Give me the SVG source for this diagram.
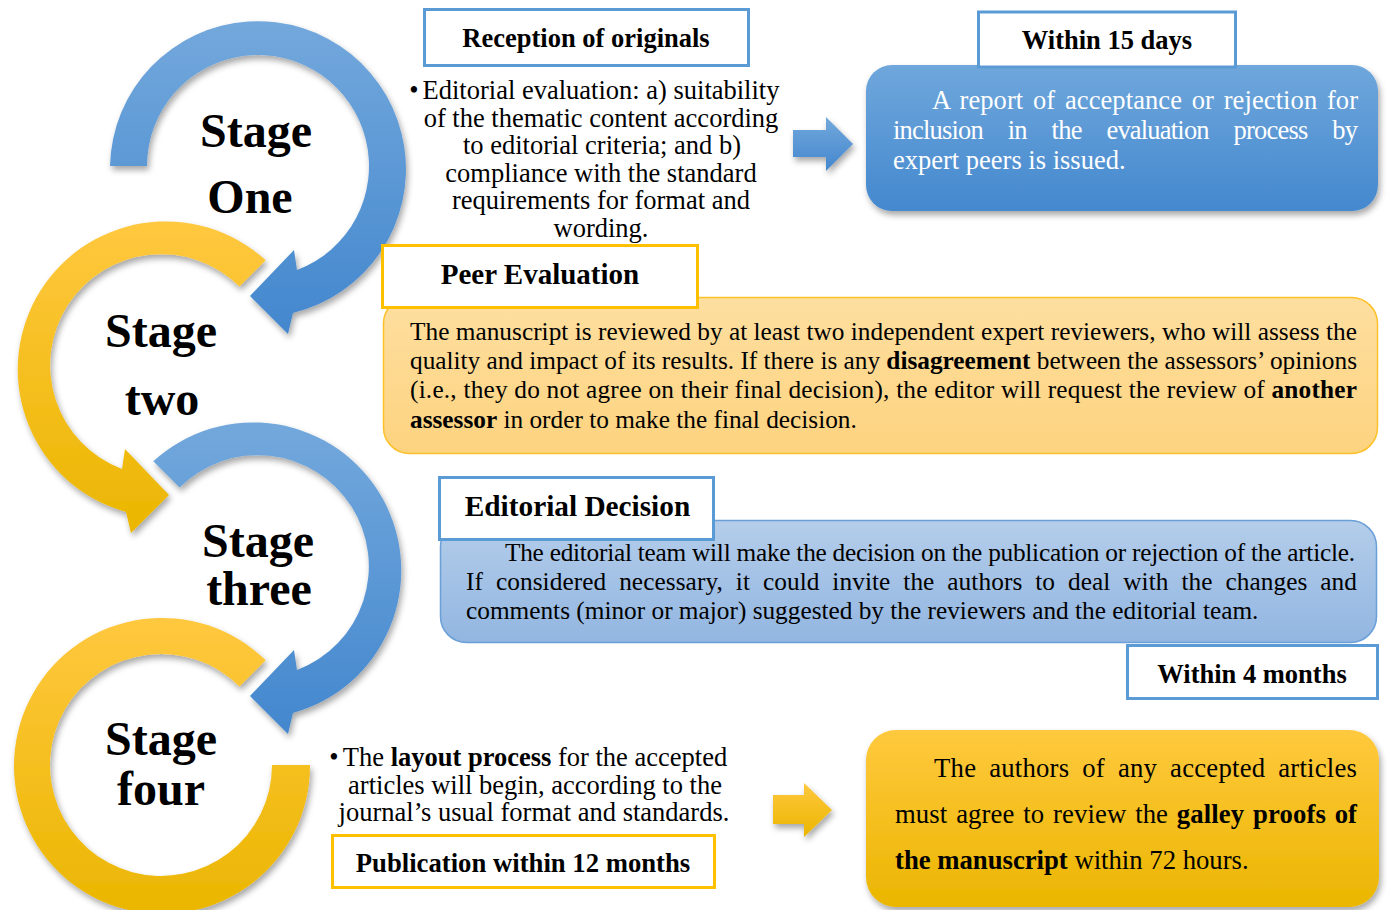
<svg xmlns="http://www.w3.org/2000/svg" width="1387" height="910" viewBox="0 0 1387 910">
<style>
.stage{font-family:"Liberation Serif","Times New Roman",serif;font-weight:bold;font-size:48px;text-anchor:middle;fill:#000}
.ttl{font-family:"Liberation Serif","Times New Roman",serif;font-weight:bold;fill:#000}
.txt{font-family:"Liberation Serif","Times New Roman",serif;fill:#000}
.wtxt{font-family:"Liberation Serif","Times New Roman",serif;fill:#fff;font-size:26.5px}
.lb{fill:#fff;stroke:#5b9bd5;stroke-width:3}
.ly{fill:#fff;stroke:#ffc000;stroke-width:3}
.b{font-weight:bold}
</style>
<defs>
<linearGradient id="gBlue" x1="0" y1="0" x2="0" y2="1"><stop offset="0" stop-color="#73a8dc"/><stop offset="1" stop-color="#4387ce"/></linearGradient>
<linearGradient id="gYel" x1="0" y1="0" x2="0" y2="1"><stop offset="0" stop-color="#ffc83f"/><stop offset="1" stop-color="#ebb600"/></linearGradient>
<linearGradient id="gBlueBox" x1="0" y1="0" x2="0" y2="1"><stop offset="0" stop-color="#6fa7dc"/><stop offset="1" stop-color="#4488ce"/></linearGradient>
<linearGradient id="gYelBox" x1="0" y1="0" x2="0" y2="1"><stop offset="0" stop-color="#ffc93e"/><stop offset="1" stop-color="#ebb600"/></linearGradient>
<linearGradient id="gPeer" x1="0" y1="0" x2="0" y2="1"><stop offset="0" stop-color="#fedfa0"/><stop offset="1" stop-color="#fdd37f"/></linearGradient>
<linearGradient id="gEd" x1="0" y1="0" x2="0" y2="1"><stop offset="0" stop-color="#b4cdea"/><stop offset="1" stop-color="#92b6e1"/></linearGradient>
<filter id="sh" x="-10%" y="-10%" width="125%" height="125%"><feDropShadow dx="2" dy="4" stdDeviation="3" flood-color="#000" flood-opacity="0.35"/></filter>
</defs>

<g id="stage-one">
<path d="M 110 166 A 148 148 0 1 1 293 313 L 288 334 L 250 296 L 294 250 L 297 270 A 111 111 0 1 0 147 166 Z" fill="url(#gBlue)" filter="url(#sh)"/>
<text class="stage" x="256" y="147">Stage</text>
<text class="stage" x="250" y="213">One</text>
</g>

<g id="stage-two">
<path d="M 265.7 260.3 A 148 148 0 1 0 126 512 L 131 533 L 169 495 L 125 449 L 122 469 A 111 111 0 1 1 239.5 286.5 Z" fill="url(#gYel)" filter="url(#sh)"/>
<text class="stage" x="161" y="347">Stage</text>
<text class="stage" x="162" y="415">two</text>
</g>

<g id="stage-three">
<path d="M 153.3 461.3 A 148 148 0 1 1 293 713 L 288 734 L 250 696 L 294 650 L 297 670 A 111 111 0 1 0 179.5 487.5 Z" fill="url(#gBlue)" filter="url(#sh)"/>
<text class="stage" x="258" y="557">Stage</text>
<text class="stage" x="259" y="605">three</text>
</g>

<g id="stage-four">
<path d="M 265.7 660.3 A 148 148 0 1 0 310 765 L 272 765 A 111 111 0 1 1 239.5 686.5 Z" fill="url(#gYel)" filter="url(#sh)"/>
<text class="stage" x="161" y="755">Stage</text>
<text class="stage" x="161" y="805">four</text>
</g>

<g id="reception">
<rect class="lb" x="424.5" y="9.5" width="324" height="56"/>
<text class="ttl" x="586" y="47" font-size="26.5" text-anchor="middle">Reception of originals</text>
<text class="txt" font-size="26.5" text-anchor="middle"><tspan x="414" y="99">•</tspan><tspan x="601" y="99">Editorial evaluation: a) suitability</tspan><tspan x="601" y="126.6">of the thematic content according</tspan><tspan x="602" y="154.2">to editorial criteria; and b)</tspan><tspan x="601" y="181.8">compliance with the standard</tspan><tspan x="601" y="209.4">requirements for format and</tspan><tspan x="601" y="237">wording.</tspan></text>
</g>

<g id="report">
<rect x="866" y="65" width="512" height="146" rx="26" fill="url(#gBlueBox)" filter="url(#sh)"/>
<text class="wtxt" x="932" y="109" word-spacing="3" textLength="426" lengthAdjust="spacing">A report of acceptance or rejection for</text>
<text class="wtxt" x="893" y="139" word-spacing="19" textLength="465" lengthAdjust="spacing">inclusion in the evaluation process by</text>
<text class="wtxt" x="893" y="169">expert peers is issued.</text>
<rect class="lb" x="978.5" y="12" width="257" height="55"/>
<text class="ttl" x="1107" y="49" font-size="26.5" text-anchor="middle">Within 15 days</text>
</g>

<g id="peer-evaluation">
<rect x="383.5" y="297.5" width="994" height="156" rx="26" fill="url(#gPeer)" stroke="#fcc12a" stroke-width="1.5"/>
<g class="txt" font-size="25.3">
<text x="410" y="340" textLength="947" lengthAdjust="spacing">The manuscript is reviewed by at least two independent expert reviewers, who will assess the</text>
<text x="410" y="369" textLength="947" lengthAdjust="spacing">quality and impact of its results. If there is any <tspan class="b">disagreement</tspan> between the assessors’ opinions</text>
<text x="410" y="398" textLength="947" lengthAdjust="spacing">(i.e., they do not agree on their final decision), the editor will request the review of <tspan class="b">another</tspan></text>
<text x="410" y="427.5"><tspan class="b">assessor</tspan> in order to make the final decision.</text>
</g>
<rect class="ly" x="382.5" y="245.5" width="315" height="62"/>
<text class="ttl" x="540" y="284" font-size="29" text-anchor="middle">Peer Evaluation</text>
</g>

<g id="editorial-decision">
<rect x="440.5" y="520.5" width="936" height="122" rx="26" fill="url(#gEd)" stroke="#6a9fd8" stroke-width="1.5"/>
<g class="txt" font-size="25.3">
<text x="505" y="561" textLength="850" lengthAdjust="spacing">The editorial team will make the decision on the publication or rejection of the article.</text>
<text x="466" y="590" word-spacing="6.5" textLength="891" lengthAdjust="spacing">If considered necessary, it could invite the authors to deal with the changes and</text>
<text x="466" y="619">comments (minor or major) suggested by the reviewers and the editorial team.</text>
</g>
<rect class="lb" x="439.5" y="477.5" width="274" height="62"/>
<text class="ttl" x="577.5" y="516" font-size="29.3" text-anchor="middle">Editorial Decision</text>
<rect class="lb" x="1127.5" y="645.5" width="250" height="53"/>
<text class="ttl" x="1252" y="683" font-size="26.5" text-anchor="middle">Within 4 months</text>
</g>

<g id="layout">
<text class="txt" font-size="26.5" text-anchor="middle"><tspan x="334" y="766">•</tspan><tspan x="535" y="766">The <tspan class="b">layout process</tspan> for the accepted</tspan><tspan x="535" y="793.5">articles will begin, according to the</tspan><tspan x="534" y="821">journal’s usual format and standards.</tspan></text>
<rect class="ly" x="332.5" y="835.5" width="382" height="52"/>
<text class="ttl" x="523" y="872" font-size="26.7" text-anchor="middle">Publication within 12 months</text>
</g>

<g id="galley-proofs">
<rect x="866" y="730" width="513" height="177" rx="30" fill="url(#gYelBox)" filter="url(#sh)"/>
<g class="txt" font-size="26.7">
<text x="934" y="777" word-spacing="6" textLength="423" lengthAdjust="spacing">The authors of any accepted articles</text>
<text x="895" y="823" word-spacing="2" textLength="462" lengthAdjust="spacing">must agree to review the <tspan class="b">galley proofs of</tspan></text>
<text x="895" y="869"><tspan class="b">the manuscript</tspan> within 72 hours.</text>
</g>
</g>

<g id="connectors">
<path d="M 793 130 L 826 130 L 826 117 L 853 144 L 826 171 L 826 157 L 793 157 Z" fill="url(#gBlue)" filter="url(#sh)"/>
<path d="M 773 795 L 804 795 L 804 783 L 832 810 L 804 837 L 804 824 L 773 824 Z" fill="url(#gYel)" filter="url(#sh)"/>
</g>
</svg>
